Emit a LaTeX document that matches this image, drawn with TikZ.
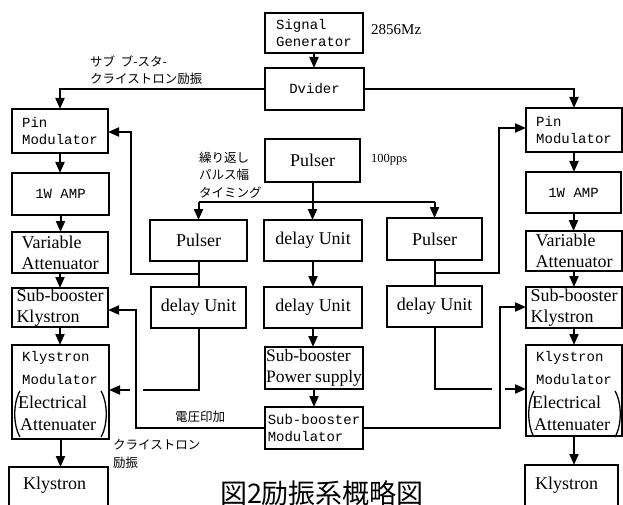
\documentclass[tikz,border=0pt]{standalone}
\usepackage{fontspec}
\setmainfont{Liberation Serif}
\newfontfamily\monof{Liberation Mono}
\newfontfamily\jpf{Noto Sans CJK JP}
\usetikzlibrary{arrows.meta}
\newcommand\mybox[7][]{%
  \pgfmathsetmacro\myw{#5-#3}\pgfmathsetmacro\myh{#6-#4}%
  \pgfmathsetmacro\mycx{(#3+#5)/2}\pgfmathsetmacro\mycy{(#4+#6)/2}%
  \node[box,minimum width=\myw pt,minimum height=\myh pt,#1] (#2) at (\mycx,\mycy) {#7};}
\newcommand\kmtext[3]{%
  \node[mf,anchor=west,inner sep=0pt] (#1a) at (#2+10,#3+13) {Klystron};
  \node[mf,anchor=west,inner sep=0pt] (#1b) at (#2+10,#3+35) {Modulator};
  \node[sf,anchor=west,inner sep=0pt] (#1c) at (#2+6,#3+57) {Electrical};
  \node[sf,anchor=west,inner sep=0pt] (#1d) at (#2+8,#3+80) {Attenuater};
  \draw[line width=1.3pt] (#2+8,#3+46) .. controls (#2+1,#3+58) and (#2+1,#3+80) .. (#2+8,#3+92);
  \draw[line width=1.3pt] (#2+89,#3+46) .. controls (#2+96,#3+58) and (#2+96,#3+80) .. (#2+89,#3+92);}
\begin{document}
\begin{tikzpicture}[x=1pt,y=-1pt,
  box/.style={draw,line width=2.3pt,inner sep=0pt,outer sep=0pt,align=left},
  wire/.style={line width=2pt},
  arr/.style={wire,-{Triangle[length=11pt,width=9pt]}},
  sf/.style={font=\fontsize{18}{21}\selectfont},
  mf/.style={font=\monof\fontsize{14}{17}\selectfont},
  jl/.style={font=\jpf\fontsize{12.5}{17}\selectfont,inner sep=0pt,align=left,anchor=west},
]
\clip (0,0) rectangle (623,505);
\fill[white] (0,0) rectangle (623,505);

% centre column
\mybox[mf]{sg}{265}{13}{363}{53}{Signal\\Generator}
\mybox[mf]{dv}{265}{68}{364}{110}{Dvider}
\mybox[sf]{pu}{265}{139}{360}{182}{Pulser}
\mybox[sf]{puL}{150}{220}{247}{261}{Pulser}
\mybox[sf]{dc1}{264}{220}{362}{261}{delay Unit}
\mybox[sf]{puR}{387}{218}{482}{260}{Pulser}
\mybox[sf]{dL}{151}{287}{246}{328}{delay Unit}
\mybox[sf]{dc2}{264}{287}{362}{328}{delay Unit}
\mybox[sf]{dR}{387}{286}{482}{327}{delay Unit}
\mybox[sf,font=\fontsize{17.5}{21}\selectfont]{ps}{265}{347}{363}{389}{Sub-booster\\Power supply}
\mybox[mf]{sbm}{265}{407}{363}{449}{Sub-booster\\Modulator}

% left column
\mybox[mf]{pinL}{12}{109}{108}{153}{Pin\\Modulator}
\mybox[mf]{ampL}{12}{173}{109}{215}{1W AMP}
\mybox[sf]{vaL}{12}{232}{108}{273}{Variable\\Attenuator}
\mybox[sf]{sbkL}{12}{288}{108}{327}{Sub-booster\\Klystron}
\mybox{kmL}{12}{345}{109}{439}{}
\kmtext{kmL}{12}{345}
\mybox{klyL}{9}{467}{108}{540}{}
\node[sf,anchor=west,inner sep=0pt] (klyLt) at (23,485) {Klystron};

% right column
\mybox[mf]{pinR}{526}{108}{622}{152}{Pin\\Modulator}
\mybox[mf]{ampR}{526}{172}{621}{213}{1W AMP}
\mybox[sf]{vaR}{526}{231}{622}{271}{Variable\\Attenuator}
\mybox[sf]{sbkR}{526}{287}{622}{328}{Sub-booster\\Klystron}
\mybox{kmR}{526}{345}{622}{436}{}
\kmtext{kmR}{526}{345}
\mybox{klyR}{525}{465}{618}{540}{}
\node[sf,anchor=west,inner sep=0pt] (klyRt) at (535,485) {Klystron};

% labels
\node[font=\fontsize{15}{18}\selectfont,anchor=west,inner sep=0pt] (freq) at (371,30) {2856Mz};
\node[font=\fontsize{12.5}{15}\selectfont,anchor=west,inner sep=0pt] (pps) at (371,160) {100pps};
\node[jl] (lab1) at (90,70) {サブ\ \ ブ-スタ-\\クライストロン励振};
\node[jl,font=\jpf\fontsize{12.5}{17.5}\selectfont] (lab2) at (199,175) {繰り返し\\パルス幅\\タイミング};
\node[jl] (lab3) at (175,417) {電圧印加};
\node[jl,font=\jpf\fontsize{12.5}{18}\selectfont] (lab4) at (113,454) {クライストロン\\励振};
\node[font=\jpf\fontsize{27}{30}\selectfont,inner sep=0pt] (title) at (322,493) {図2励振系概略図};

% junction coordinates
\coordinate (hL) at (198.5,202);
\coordinate (hR) at (434.5,202);
\coordinate (bL) at (198.5,274);
\coordinate (cL) at (131,132);
\coordinate (bR) at (434.5,273);
\coordinate (cR) at (499,128);
\coordinate (gL1) at (143,390);
\coordinate (gL2) at (130,390);
\coordinate (gR1) at (492,389);
\coordinate (gR2) at (505,389);
\coordinate (vL) at (136,310);
\coordinate (vR) at (500,307);

% connectors
\draw[arr] (sg.south) -- (sg.south |- dv.north);
\draw[arr] (dv.west) -| (pinL.north);
\draw[arr] (dv.east) -| (pinR.north);

\draw[arr] (pu.south) -- (pu.south |- dc1.north);
\draw[wire] (hL) -- (hR);
\draw[arr] (hL) -- (puL.north);
\draw[arr] (hR) -- (puR.north);
\draw[arr] (dc1.south) -- (dc1.south |- dc2.north);
\draw[arr] (dc2.south) -- (dc2.south |- ps.north);
\draw[arr] (ps.south) -- (ps.south |- sbm.north);

\draw[wire] (puL.south) -- (dL.north);
\draw[arr] (bL) -| (cL) -- (cL -| pinL.east);
\draw[wire] (puR.south) -- (dR.north);
\draw[arr] (bR) -| (cR) -- (cR -| pinR.west);

\draw[wire] (dL.south) |- (gL1);
\draw[arr] (gL2) -- (gL2 -| kmL.east);
\draw[wire] (dR.south) |- (gR1);
\draw[arr] (gR2) -- (gR2 -| kmR.west);

\draw[arr] (sbm.west) -| (vL) -- (vL -| sbkL.east);
\draw[arr] (sbm.east) -| (vR) -- (vR -| sbkR.west);

\foreach \a/\b in {pinL/ampL,ampL/vaL,vaL/sbkL,sbkL/kmL,kmL/klyL,pinR/ampR,ampR/vaR,vaR/sbkR,sbkR/kmR,kmR/klyR}
  \draw[arr] (\a.south) -- (\a.south |- \b.north);
\end{tikzpicture}
\end{document}
